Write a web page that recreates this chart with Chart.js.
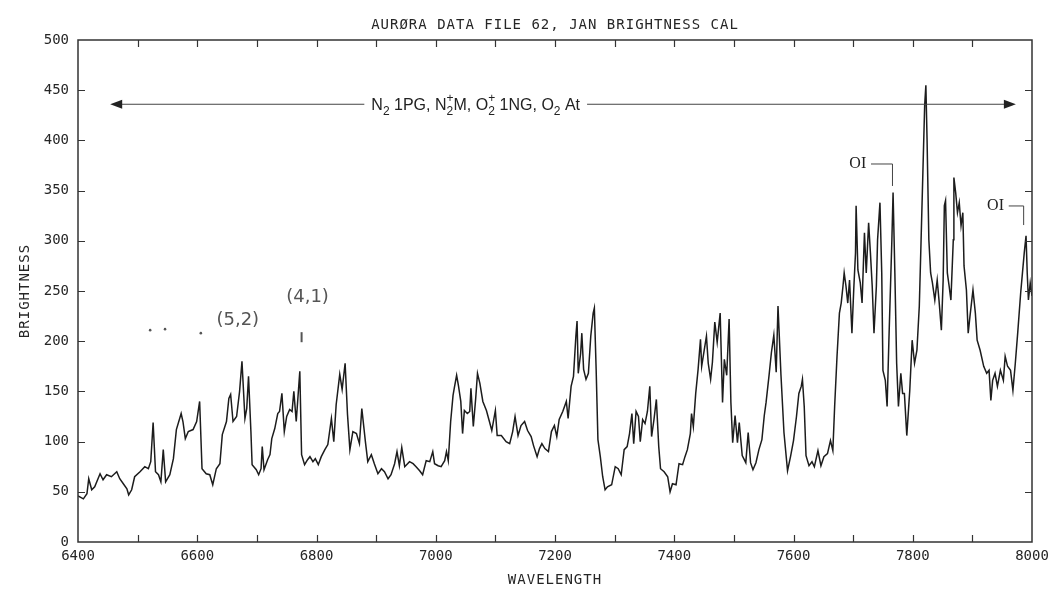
<!DOCTYPE html>
<html>
<head>
<meta charset="utf-8">
<title>Aurora data file 62</title>
<script src="https://cdn.jsdelivr.net/npm/chart.js@4.4.1/dist/chart.umd.min.js"></script>
<style>
  html, body { margin: 0; padding: 0; background: #fff; }
</style>
</head>
<body>
<canvas id="chart" width="1051" height="593"></canvas>
<script>
// values (wavelength in A, brightness in counts)
const wavelength = [
  6400, 6409, 6415, 6418, 6423, 6428, 6437, 6442, 6448, 6456, 6465, 6470, 6476, 6482, 6485, 6490,
  6495, 6504, 6512, 6518, 6522, 6526, 6530, 6535, 6539, 6543, 6547, 6554, 6560, 6565, 6573, 6576,
  6580, 6585, 6593, 6599, 6604, 6608, 6615, 6621, 6626, 6632, 6638, 6642, 6649, 6653, 6656, 6660,
  6666, 6671, 6675, 6680, 6683, 6686, 6690, 6692, 6699, 6703, 6707, 6709, 6712, 6718, 6722, 6725,
  6730, 6735, 6738, 6742, 6746, 6750, 6755, 6759, 6762, 6766, 6772, 6775, 6780, 6785, 6789, 6794,
  6798, 6803, 6808, 6814, 6819, 6825, 6829, 6833, 6839, 6843, 6848, 6852, 6856, 6861, 6867, 6872,
  6876, 6882, 6886, 6892, 6897, 6903, 6909, 6914, 6920, 6925, 6931, 6935, 6939, 6943, 6948, 6956,
  6962, 6967, 6973, 6978, 6984, 6990, 6995, 6998, 7004, 7009, 7015, 7018, 7021, 7025, 7029, 7031,
  7035, 7038, 7042, 7045, 7048, 7053, 7057, 7059, 7063, 7067, 7070, 7074, 7079, 7085, 7090, 7094,
  7100, 7103, 7110, 7118, 7124, 7129, 7133, 7138, 7143, 7149, 7154, 7160, 7164, 7170, 7174, 7178,
  7183, 7189, 7194, 7199, 7203, 7207, 7213, 7219, 7222, 7227, 7231, 7235, 7237, 7239, 7243, 7245,
  7248, 7252, 7256, 7260, 7264, 7266, 7269, 7272, 7276, 7280, 7284, 7288, 7295, 7301, 7306, 7311,
  7316, 7321, 7325, 7329, 7332, 7336, 7340, 7343, 7347, 7351, 7355, 7359, 7362, 7366, 7370, 7374,
  7377, 7383, 7389, 7393, 7397, 7403, 7408, 7414, 7418, 7422, 7427, 7429, 7432, 7436, 7440, 7444,
  7446, 7450, 7454, 7457, 7461, 7464, 7468, 7472, 7477, 7481, 7484, 7488, 7492, 7495, 7498, 7502,
  7506, 7509, 7514, 7520, 7524, 7528, 7532, 7537, 7542, 7547, 7551, 7554, 7559, 7563, 7567, 7571,
  7574, 7579, 7584, 7590, 7595, 7600, 7605, 7609, 7613, 7615, 7618, 7621, 7626, 7631, 7635, 7641,
  7646, 7651, 7657, 7662, 7666, 7669, 7673, 7677, 7680, 7683, 7685, 7688, 7691, 7694, 7698, 7701,
  7704, 7705, 7708, 7712, 7715, 7719, 7722, 7726, 7729, 7732, 7735, 7739, 7741, 7745, 7748, 7750,
  7754, 7757, 7760, 7763, 7765, 7767, 7770, 7773, 7776, 7780, 7783, 7786, 7790, 7795, 7799, 7803,
  7807, 7811, 7814, 7817, 7820, 7822, 7824, 7827, 7830, 7833, 7837, 7841, 7844, 7848, 7851, 7853,
  7855, 7858, 7861, 7864, 7868, 7869, 7872, 7875, 7878, 7881, 7884, 7886, 7890, 7893, 7896, 7901,
  7905, 7908, 7913, 7919, 7924, 7928, 7931, 7934, 7938, 7942, 7947, 7952, 7955, 7959, 7964, 7968,
  7972, 7976, 7981, 7984, 7987, 7990, 7992, 7994, 7997, 8000
];
const brightness = [
  46, 43, 48, 63, 52, 55, 68, 62, 67, 65, 70, 63, 58, 53, 47, 52,
  65, 70, 75, 73, 80, 119, 70, 67, 60, 92, 60, 67, 83, 112, 128, 120,
  103, 110, 112, 120, 140, 73, 68, 67, 57, 73, 78, 107, 120, 143, 147, 120,
  125, 150, 180, 123, 133, 165, 110, 77, 72, 67, 73, 95, 72, 82, 87, 103,
  113, 128, 130, 148, 110, 125, 132, 130, 150, 120, 170, 87, 77, 82, 85, 80,
  83, 77, 85, 92, 97, 123, 100, 137, 167, 152, 178, 127, 92, 110, 108, 98,
  133, 100, 80, 87, 78, 68, 73, 70, 63, 67, 78, 90, 76, 94, 75, 80,
  78, 75, 71, 67, 81, 80, 90, 78, 76, 75, 81, 90, 81, 120, 146, 153,
  166, 156, 140, 108, 131, 128, 130, 153, 115, 143, 168, 158, 140, 131, 120, 111,
  131, 106, 106, 100, 98, 110, 125, 106, 116, 120, 111, 105, 96, 85, 93, 98,
  93, 90, 110, 116, 105, 122, 130, 140, 123, 155, 165, 205, 220, 168, 188, 208,
  172, 162, 168, 205, 228, 233, 172, 102, 85, 65, 52, 55, 57, 75, 73, 67,
  92, 95, 108, 128, 98, 130, 125, 100, 122, 118, 130, 155, 105, 122, 142, 95,
  73, 70, 65, 50, 58, 57, 78, 77, 85, 92, 108, 128, 115, 148, 172, 202,
  175, 190, 205, 178, 162, 179, 219, 199, 228, 139, 182, 166, 222, 139, 99, 126,
  99, 119, 86, 79, 109, 79, 72, 79, 92, 102, 126, 139, 166, 189, 206, 169,
  235, 166, 109, 71, 85, 101, 125, 148, 155, 162, 135, 86, 76, 80, 75, 91,
  76, 85, 88, 101, 91, 135, 185, 228, 238, 255, 268, 255, 238, 261, 208, 251,
  288, 335, 271, 258, 238, 308, 268, 318, 288, 255, 208, 255, 301, 338, 268, 171,
  161, 135, 201, 261, 301, 348, 268, 178, 135, 168, 148, 148, 106, 151, 201, 178,
  191, 235, 301, 368, 435, 455, 401, 301, 268, 258, 241, 261, 241, 211, 261, 335,
  340, 268, 255, 241, 301, 363, 348, 328, 338, 315, 328, 275, 251, 208, 225, 251,
  228, 201, 191, 175, 168, 171, 141, 161, 168, 155, 171, 161, 185, 175, 171, 151,
  178, 208, 248, 268, 288, 305, 268, 241, 258, 245
];
const xTickLabels = [6400, 6600, 6800, 7000, 7200, 7400, 7600, 7800, 8000];
const yTickLabels = [0, 50, 100, 150, 200, 250, 300, 350, 400, 450, 500];

const titleText = "AURØRA DATA FILE 62, JAN BRIGHTNESS CAL";
const xTitle = "WAVELENGTH";
const yTitle = "BRIGHTNESS";
// N2 1PG, N2+M, O2+ 1NG, O2 At
const bandLabel = [
  { text: "N", sub: "2" },
  { text: " 1PG, N", sub: "2", sup: "+" },
  { text: "M, O", sub: "2", sup: "+" },
  { text: " 1NG, O", sub: "2" },
  { text: " At" }
];

const plotterFont = "'DejaVu Sans Mono', monospace";
const ink = "#262626";
const elChart = document.getElementById("chart");

// draws the band label with stacked sub/superscripts, returns its left/right edge
function drawBandLabel(ctx, cx, cy) {
  const size = 16;
  const big = size + "px 'Liberation Sans', Arial, sans-serif";
  const small = Math.round(size * 0.72) + "px 'Liberation Sans', Arial, sans-serif";
  const widths = bandLabel.map(r => {
    ctx.font = big;
    const wm = ctx.measureText(r.text).width;
    ctx.font = small;
    const ws = Math.max(r.sub ? ctx.measureText(r.sub).width : 0, r.sup ? ctx.measureText(r.sup).width : 0);
    return [wm, ws];
  });
  const total = widths.reduce((s, w) => s + w[0] + w[1], 0);
  let xx = cx - total / 2;
  const base = cy + size * 0.36;
  ctx.textAlign = "left";
  ctx.textBaseline = "alphabetic";
  bandLabel.forEach((r, i) => {
    ctx.font = big;
    ctx.fillText(r.text, xx, base);
    xx += widths[i][0];
    ctx.font = small;
    if (r.sub) ctx.fillText(r.sub, xx, base + size * 0.3);
    if (r.sup) ctx.fillText(r.sup, xx, base - size * 0.5);
    xx += widths[i][1];
  });
  return [cx - total / 2, cx + total / 2];
}

function arrowHead(ctx, tipX, tipY, dir) {
  ctx.beginPath();
  ctx.moveTo(tipX, tipY);
  ctx.lineTo(tipX - dir * 12, tipY - 4.5);
  ctx.lineTo(tipX - dir * 12, tipY + 4.5);
  ctx.closePath();
  ctx.fill();
}

const decorPlugin = {
  id: "decor",
  afterDatasetsDraw(chart) {
    const { ctx, chartArea: a, scales: { x, y } } = chart;
    ctx.save();

    // frame and inward ticks
    ctx.strokeStyle = "#333";
    ctx.lineWidth = 1.5;
    ctx.strokeRect(a.left, a.top, a.right - a.left, a.bottom - a.top);
    ctx.lineWidth = 1.2;
    ctx.beginPath();
    for (let v = 6500; v < 8000; v += 100) {
      const px = Math.round(x.getPixelForValue(v)) + 0.5;
      ctx.moveTo(px, a.bottom); ctx.lineTo(px, a.bottom - 7);
      ctx.moveTo(px, a.top); ctx.lineTo(px, a.top + 7);
    }
    for (let v = 50; v < 500; v += 50) {
      const py = Math.round(y.getPixelForValue(v)) + 0.5;
      ctx.moveTo(a.left, py); ctx.lineTo(a.left + 7, py);
      ctx.moveTo(a.right, py); ctx.lineTo(a.right - 7, py);
    }
    ctx.stroke();

    // titles
    ctx.fillStyle = ink;
    ctx.font = "14px " + plotterFont;
    ctx.letterSpacing = "1px";
    ctx.textAlign = "center";
    ctx.textBaseline = "middle";
    ctx.fillText(titleText, (a.left + a.right) / 2, 25);
    ctx.fillText(xTitle, (a.left + a.right) / 2, 580);
    ctx.save();
    ctx.translate(25, (a.top + a.bottom) / 2);
    ctx.rotate(-Math.PI / 2);
    ctx.fillText(yTitle, 0, 0);
    ctx.restore();
    ctx.letterSpacing = "0px";

    // band label with arrows
    ctx.fillStyle = "#222";
    const ay = y.getPixelForValue(436);
    const [tl, tr] = drawBandLabel(ctx, x.getPixelForValue(7067), ay);
    const xl = x.getPixelForValue(6454), xr = x.getPixelForValue(7973);
    ctx.strokeStyle = "#444";
    ctx.lineWidth = 1;
    ctx.beginPath();
    ctx.moveTo(xl + 6, ay); ctx.lineTo(tl - 7, ay);
    ctx.moveTo(tr + 7, ay); ctx.lineTo(xr - 6, ay);
    ctx.stroke();
    arrowHead(ctx, xl, ay, -1);
    arrowHead(ctx, xr, ay, 1);

    // OI markers
    ctx.font = "16px 'Liberation Serif', serif";
    ctx.textAlign = "right";
    ctx.textBaseline = "middle";
    [[7722, 7730, 7766, 376.5, 354.6], [7953, 7961, 7986, 334.7, 315.7]].forEach(([tx, bx0, bx1, v0, v1]) => {
      const py = y.getPixelForValue(v0);
      ctx.fillText("OI", x.getPixelForValue(tx), py);
      ctx.beginPath();
      ctx.moveTo(x.getPixelForValue(bx0), py);
      ctx.lineTo(x.getPixelForValue(bx1), py);
      ctx.lineTo(x.getPixelForValue(bx1), y.getPixelForValue(v1));
      ctx.stroke();
    });

    // pencil notes
    ctx.fillStyle = "#555";
    ctx.strokeStyle = "#555";
    ctx.font = "18px 'DejaVu Sans', sans-serif";
    ctx.textAlign = "center";
    ctx.fillText("(5,2)", x.getPixelForValue(6668), y.getPixelForValue(221));
    ctx.fillText("(4,1)", x.getPixelForValue(6785), y.getPixelForValue(244));
    [[6521, 211], [6546, 212], [6606, 208]].forEach(([wx, wy]) => {
      ctx.beginPath();
      ctx.arc(x.getPixelForValue(wx), y.getPixelForValue(wy), 1.3, 0, Math.PI * 2);
      ctx.fill();
    });
    ctx.lineWidth = 2;
    ctx.beginPath();
    ctx.moveTo(x.getPixelForValue(6775), y.getPixelForValue(209));
    ctx.lineTo(x.getPixelForValue(6775), y.getPixelForValue(199));
    ctx.stroke();

    ctx.restore();
  }
};

new Chart(elChart, {
  type: "line",
  data: {
    datasets: [{
      data: wavelength.map((w, i) => ({ x: w, y: brightness[i] })),
      borderColor: "#1c1c1c",
      borderWidth: 1.5,
      pointRadius: 0,
      tension: 0,
      fill: false
    }]
  },
  options: {
    responsive: false,
    animation: false,
    layout: { padding: { top: 40, right: 19, left: 0, bottom: 0 } },
    plugins: { legend: { display: false }, tooltip: { enabled: false } },
    scales: {
      x: {
        type: "linear",
        min: 6400,
        max: 8000,
        afterBuildTicks: s => { s.ticks = xTickLabels.map(v => ({ value: v })); },
        afterFit: s => { s.height = 51; s.paddingLeft = 0; s.paddingRight = 0; },
        grid: { display: false, drawTicks: false },
        border: { display: false },
        ticks: { font: { family: plotterFont, size: 14 }, color: ink, padding: 6, maxRotation: 0, autoSkip: false, callback: v => String(v) }
      },
      y: {
        min: 0,
        max: 500,
        afterBuildTicks: s => { s.ticks = yTickLabels.map(v => ({ value: v })); },
        afterFit: s => { s.width = 78; s.paddingTop = 0; s.paddingBottom = 0; },
        grid: { display: false, drawTicks: false },
        border: { display: false },
        ticks: { font: { family: plotterFont, size: 14 }, color: ink, padding: 9, callback: v => String(v) }
      }
    }
  },
  plugins: [decorPlugin]
});
</script>
</body>
</html>
